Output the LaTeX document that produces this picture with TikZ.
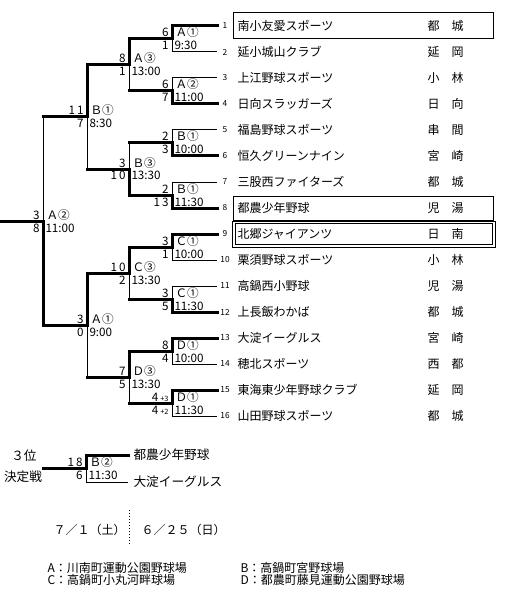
\documentclass[tikz,border=0pt]{standalone}
\usepackage{fontspec}
\setmainfont{Noto Sans CJK JP}
\usetikzlibrary{calc}
\newcommand\twod[2]{#1\kern1.5pt#2}
\newcommand\extra[1]{\kern1.5pt{\fontsize{5.5}{6}\selectfont#1}}

\begin{document}
\begin{tikzpicture}[x=0.75pt, y=-0.75pt, line width=0.75pt,
    every node/.style={inner sep=0pt},
    win/.style={line width=2.25pt, line cap=rect},
    score/.style={font=\fontsize{8.75}{9}\selectfont},
    team/.style={font=\fontsize{9}{10}\selectfont, anchor=west},
    num/.style={font=\fontsize{6.25}{7}\selectfont}]
  \useasboundingbox (0,0) rectangle (511,599);

  % bracket points
  \coordinate (start) at (0,221);
  \coordinate (fin) at (43,221);
  \coordinate (r3a) at (87,117);
  \coordinate (r3b) at (87,325);
  \foreach \c [count=\i] in {r2a,r2b,r2c,r2d}
    \coordinate (\c) at (129,104*\i-39);
  \foreach \c [count=\i] in {r1a,r1b,r1c,r1d,r1e,r1f,r1g,r1h}
    \coordinate (\c) at (172,52*\i-13);

  % teams
  \foreach \name/\town [count=\k] in {南小友愛スポーツ/都　城, 延小城山クラブ/延　岡,
      上江野球スポーツ/小　林, 日向スラッガーズ/日　向, 福島野球スポーツ/串　間,
      恒久グリーンナイン/宮　崎, 三股西ファイターズ/都　城, 都農少年野球/児　湯,
      北郷ジャイアンツ/日　南, 栗須野球スポーツ/小　林, 高鍋西小野球/児　湯,
      上長飯わかば/都　城, 大淀イーグルス/宮　崎, 穂北スポーツ/西　都,
      東海東少年野球クラブ/延　岡, 山田野球スポーツ/都　城} {
    \coordinate (e\k) at (217,26*\k);
    \node[num] (n\k) at (225,26*\k) {\k};
    \node[team] (t\k) at (237,26*\k) {\name};
    \node[team] (w\k) at (427,26*\k) {\town};
  }
  \draw (233,13) rectangle (493,39);
  \draw (233,196) rectangle (493,220);
  \draw (232,221) rectangle (495,247);
  \draw (235,223.5) rectangle (492.5,244.5);

  % first round
  \foreach \m/\w/\l in {r1a/1/2, r1b/4/3, r1c/6/5, r1d/8/7,
      r1e/9/10, r1f/12/11, r1g/13/14, r1h/15/16} {
    \draw (\m) |- (e\l);
    \draw[win] (\m) |- (e\w);
  }
  % later rounds
  \foreach \m/\w/\l in {r2a/r1a/r1b, r2b/r1d/r1c, r2c/r1e/r1f, r2d/r1g/r1h,
      r3a/r2a/r2b, r3b/r2c/r2d, fin/r3b/r3a} {
    \draw (\m) -- (\m |- \l);
    \draw[win] (\l) -- (\l -| \m);
    \draw[win] (\m) |- (\w);
  }
  \draw[win] (start) -- (fin);

  % third place
  \coordinate (thd) at (86,468.5);
  \coordinate (thdl) at (43,468.5);
  \coordinate (p1) at (128,455);
  \coordinate (p2) at (128,482);
  \draw (thd) |- (p2);
  \draw[win] (thdl) -- (thd) |- (p1);
  \node[team, font=\fontsize{9.5}{10}\selectfont] (q1) at (133,455) {都農少年野球};
  \node[team, font=\fontsize{9.5}{10}\selectfont] (q2) at (133,482) {大淀イーグルス};
  \node[font=\fontsize{9.5}{10}\selectfont] (pl1) at (24,456) {３位};
  \node[font=\fontsize{9.5}{10}\selectfont] (pl2) at (23,477) {決定戦};

  % scores, grounds, times
  \foreach \m/\a/\b/\v/\t in {r1a/6/1/Ａ①/9:30, r1b/6/7/Ａ②/11:00,
      r1c/2/3/Ｂ①/10:00, r1d/2/\twod13/Ｂ①/11:30, r1e/3/1/Ｃ①/10:00,
      r1f/3/5/Ｃ①/11:30, r1g/8/4/Ｄ①/10:00, r1h/4\extra{+3}/4\extra{+2}/Ｄ①/11:30,
      r2a/8/1/Ａ③/13:00, r2b/3/\twod10/Ｂ③/13:30, r2c/\twod10/2/Ｃ③/13:30,
      r2d/7/5/Ｄ③/13:30, r3a/\twod11/7/Ｂ①/8:30, r3b/3/0/Ａ①/9:00,
      fin/3/8/Ａ②/11:00, thd/\twod18/6/Ｂ②/11:30} {
    \node[score, anchor=base east] (\m s1) at ($(\m)+(-3,-2)$) {\a};
    \node[score, anchor=base east] (\m s2) at ($(\m)+(-3,11)$) {\b};
    \node[score, anchor=base west] (\m v) at ($(\m)+(3,-2)$) {\v};
    \node[score, anchor=base west] (\m t) at ($(\m)+(2,11)$) {\t};
  }

  % dates and grounds
  \draw[dash pattern=on 0.75pt off 1.5pt] (129,510) -- (129,546);
  \node[team] (d1) at (53,530) {７／１（土）};
  \node[team] (d2) at (141,530) {６／２５（日）};
  \node[team] (gA) at (47,568) {A：川南町運動公園野球場};
  \node[team] (gC) at (47,580) {C：高鍋町小丸河畔球場};
  \node[team] (gB) at (240,568) {B：高鍋町宮野球場};
  \node[team] (gD) at (240,580) {D：都農町藤見運動公園野球場};
\end{tikzpicture}
\end{document}
